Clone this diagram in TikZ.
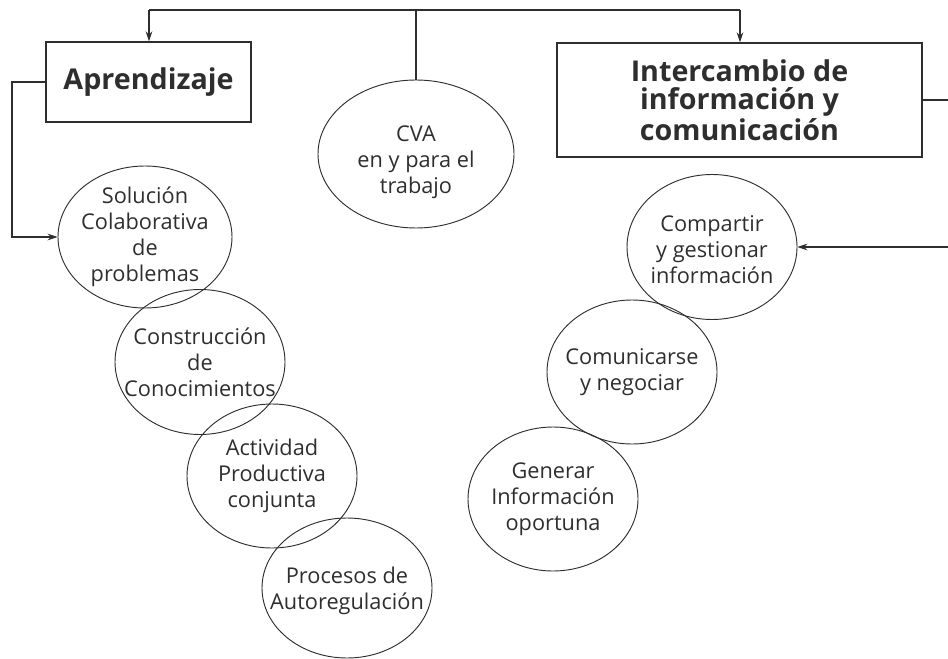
\documentclass[tikz,border=0pt]{standalone}
\usepackage{fontspec}
\setmainfont{Open Sans}
\usetikzlibrary{shapes.geometric,arrows.meta}
\definecolor{ink}{HTML}{2E2E2E}
\newcommand\pxu{0.75pt}
\tikzset{
  ell/.style={ellipse,draw=ink,line width=0.7pt,inner sep=0pt},
  lbl/.style={inner sep=0pt,align=center,text=ink,font=\fontsize{16.3}{19.5}\selectfont},
  titlebox/.style={rectangle,draw=ink,line width=1pt,inner sep=0pt,align=center,text=ink,
     font=\fontsize{21.5}{21.5}\selectfont\bfseries},
  conn/.style={draw=ink,line width=0.8pt},
  topconn/.style={draw=ink,line width=1.4pt},
  tip/.style={-{Stealth[length=7.5pt,width=5pt]}}
}
\begin{document}
\begin{tikzpicture}[x=0.75pt,y=-0.75pt]
\useasboundingbox (0,0) rectangle (948,659);
\clip (0,0) rectangle (948,659);
% title boxes
\node[titlebox,minimum width=205*\pxu,minimum height=80*\pxu] (apr) at (148.5,82) {Aprendizaje};
\node[titlebox,minimum width=365*\pxu,minimum height=114*\pxu] (int) at (739.5,100) {Intercambio de\\información y\\comunicación};
% ellipses
\node[ell,minimum width=196*\pxu,minimum height=148*\pxu] (cva) at (416,154) {};
\node[lbl] (cvat) at (416,162) {CVA\\en y para el\\trabajo};
\node[ell,minimum width=174*\pxu,minimum height=142*\pxu] (sol) at (145,237) {};
\node[lbl] (solt) at (145,237) {Solución\\Colaborativa\\de\\problemas};
\node[ell,minimum width=170*\pxu,minimum height=145*\pxu] (con) at (200,362) {};
\node[lbl] (cont) at (200,362) {Construcción\\de\\Conocimientos};
\node[ell,minimum width=170*\pxu,minimum height=144*\pxu] (act) at (272,476) {};
\node[lbl] (actt) at (272,476) {Actividad\\Productiva\\conjunta};
\node[ell,minimum width=170*\pxu,minimum height=140*\pxu] (pro) at (347,588) {};
\node[lbl] (prot) at (347,591) {Procesos de\\Autoregulación};
\node[ell,minimum width=170*\pxu,minimum height=145*\pxu] (com) at (712,247) {};
\node[lbl] (comt) at (712,250) {Compartir\\y gestionar\\información};
\node[ell,minimum width=170*\pxu,minimum height=144*\pxu] (cne) at (632,372) {};
\node[lbl] (cnet) at (632,372) {Comunicarse\\y negociar};
\node[ell,minimum width=170*\pxu,minimum height=144*\pxu] (gen) at (553,499) {};
\node[lbl] (gent) at (553,499) {Generar\\Información\\oportuna};
% connectors
\coordinate (tl) at (149,10);
\coordinate (tr) at (740,10);
\coordinate (tc) at (416,10);
\draw[topconn] (tl) -- (tr);
\draw[topconn,tip] (tl) -- (tl |- apr.north);
\draw[topconn,tip] (tr) -- (tr |- int.north);
\draw[conn] (tc) -- (cva.north);
\coordinate (l1) at (12,82);
\coordinate (l2) at (12,237);
\draw[conn,tip] (apr.west) -- (l1) -- (l2) -- (sol.west);
\coordinate (r1) at (954,100);
\coordinate (r2) at (954,247);
\draw[conn,tip] (int.east) -- (r1) -- (r2) -- (com.east);
\end{tikzpicture}
\end{document}
